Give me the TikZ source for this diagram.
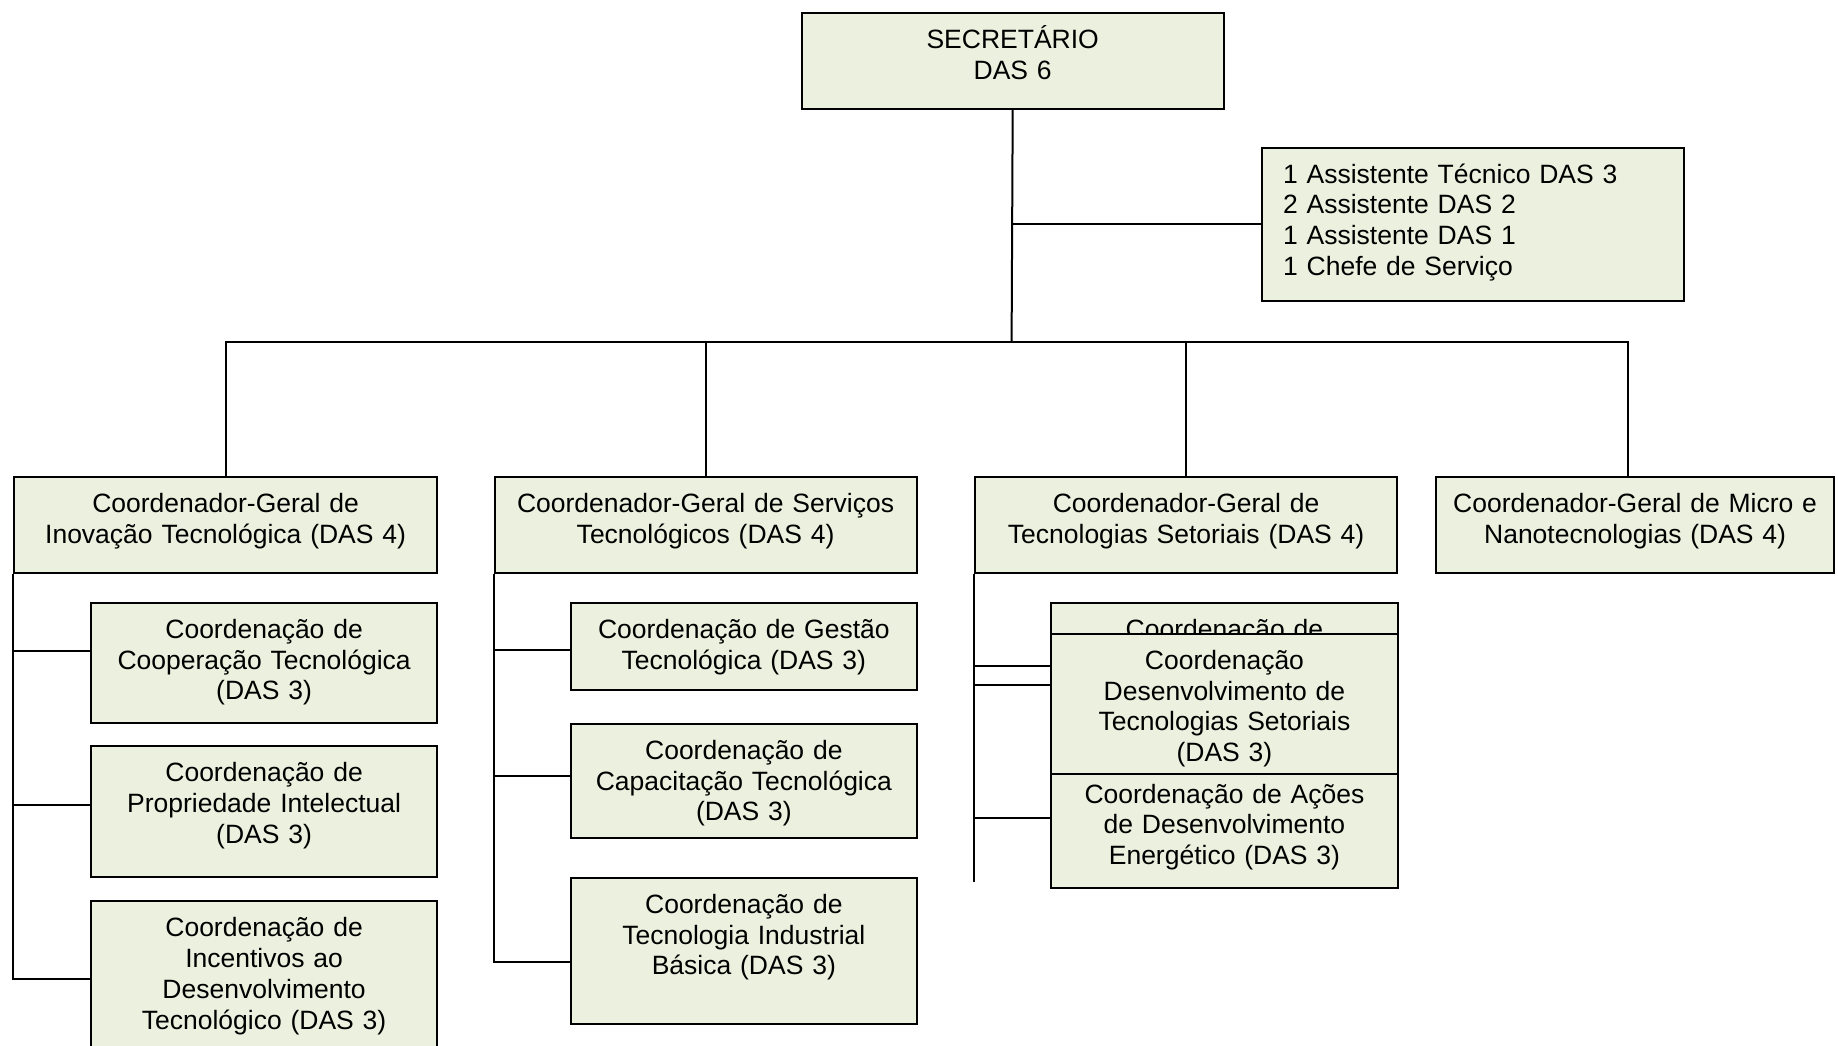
\documentclass[tikz,border=0pt]{standalone}
\usepackage{fontspec}
\setmainfont{Liberation Sans}
\definecolor{boxfill}{HTML}{EBF1DE}
\begin{document}
\begin{tikzpicture}[x=0.5pt,y=-0.5pt,
    box/.style={draw, line width=1.1pt, fill=boxfill, anchor=north west,
      align=center, inner xsep=4pt, inner ysep=4pt, text height=13.75pt,
      font=\fontsize{13.25pt}{15.4pt}\selectfont},
    link/.style={line width=1pt}]
  \useasboundingbox (0,0) rectangle (1838,1045);
  \draw
    (800.6,11.7) node[box, text width=203pt, text depth=26.25pt] (sec)
      {SECRETÁRIO\\DAS 6}
    (1261,146.5) node[box, align=left, inner xsep=10.5pt, text width=190pt, text depth=55pt] (staff)
      {1 Assistente Técnico DAS 3\\2 Assistente DAS 2\\1 Assistente DAS 1\\1 Chefe de Serviço}
    (13,476) node[box, text width=203.5pt, text depth=26.25pt] (b1)
      {Coordenador-Geral de\\Inovação Tecnológica (DAS 4)}
    (493.5,476) node[box, text width=203pt, text depth=26.25pt] (b2)
      {Coordenador-Geral de Serviços\\Tecnológicos (DAS 4)}
    (974,476) node[box, text width=203pt, text depth=26.25pt] (b3)
      {Coordenador-Geral de\\Tecnologias Setoriais (DAS 4)}
    (1435,476) node[box, text width=191pt, text depth=26.25pt] (b4)
      {Coordenador-Geral de Micro e\\Nanotecnologias (DAS 4)}
    (90,601.7) node[box, text width=165pt, text depth=38.4pt] (c1a)
      {Coordenação de\\Cooperação Tecnológica\\(DAS 3)}
    (90,745) node[box, text width=165pt, text depth=43.75pt] (c1b)
      {Coordenação de\\Propriedade Intelectual\\(DAS 3)}
    (90,900) node[box, text width=165pt, text depth=58.25pt] (c1c)
      {Coordenação de\\Incentivos ao\\Desenvolvimento\\Tecnológico (DAS 3)}
    (570,601.7) node[box, text width=164.75pt, text depth=21.9pt] (c2a)
      {Coordenação de Gestão\\Tecnológica (DAS 3)}
    (570,722.7) node[box, text width=164.75pt, text depth=35.25pt] (c2b)
      {Coordenação de\\Capacitação Tecnológica\\(DAS 3)}
    (570,876.7) node[box, text width=164.75pt, text depth=51.4pt] (c2c)
      {Coordenação de\\Tecnologia Industrial\\Básica (DAS 3)}
    (1050,601.7) node[box, text width=165.35pt, text depth=41.55pt] (c3a)
      {Coordenação de}
    (1050,766.5) node[box, text width=165.35pt, text depth=38.5pt] (c3c)
      {Coordenação de Ações\\de Desenvolvimento\\Energético (DAS 3)}
    (1050,632.7) node[box, text width=165.35pt, text depth=48.25pt] (c3b)
      {Coordenação\\Desenvolvimento de\\Tecnologias Setoriais\\(DAS 3)};
  \coordinate (hub) at (1011.6,342);
  \coordinate (t3end) at (974,881.7);
  \begin{scope}[link]
    \draw (sec.south) -- (hub);
    \draw (sec.south |- staff.west) -- (staff.west);
    \draw (b1.north) |- (hub);
    \draw (b2.north) -- (b2.north |- hub);
    \draw (b3.north) -- (b3.north |- hub);
    \draw ([xshift=-3.5pt]b4.north) |- (hub);
    \draw (b1.south west) |- ([yshift=5.9pt]c1a.west);
    \draw (b1.south west) |- ([yshift=3.25pt]c1b.west);
    \draw (b1.south west) |- ([yshift=1pt]c1c.west);
    \draw (b2.south west) |- ([yshift=-1.8pt]c2a.west);
    \draw (b2.south west) |- ([yshift=2.35pt]c2b.west);
    \draw (b2.south west) |- ([yshift=-5.6pt]c2c.west);
    \draw (b3.south west) -- (t3end);
    \draw (b3.south west) |- (c3a.west);
    \draw (b3.south west) |- ([yshift=9.35pt]c3b.west);
    \draw (b3.south west) |- ([yshift=4.9pt]c3c.west);
  \end{scope}
\end{tikzpicture}
\end{document}
